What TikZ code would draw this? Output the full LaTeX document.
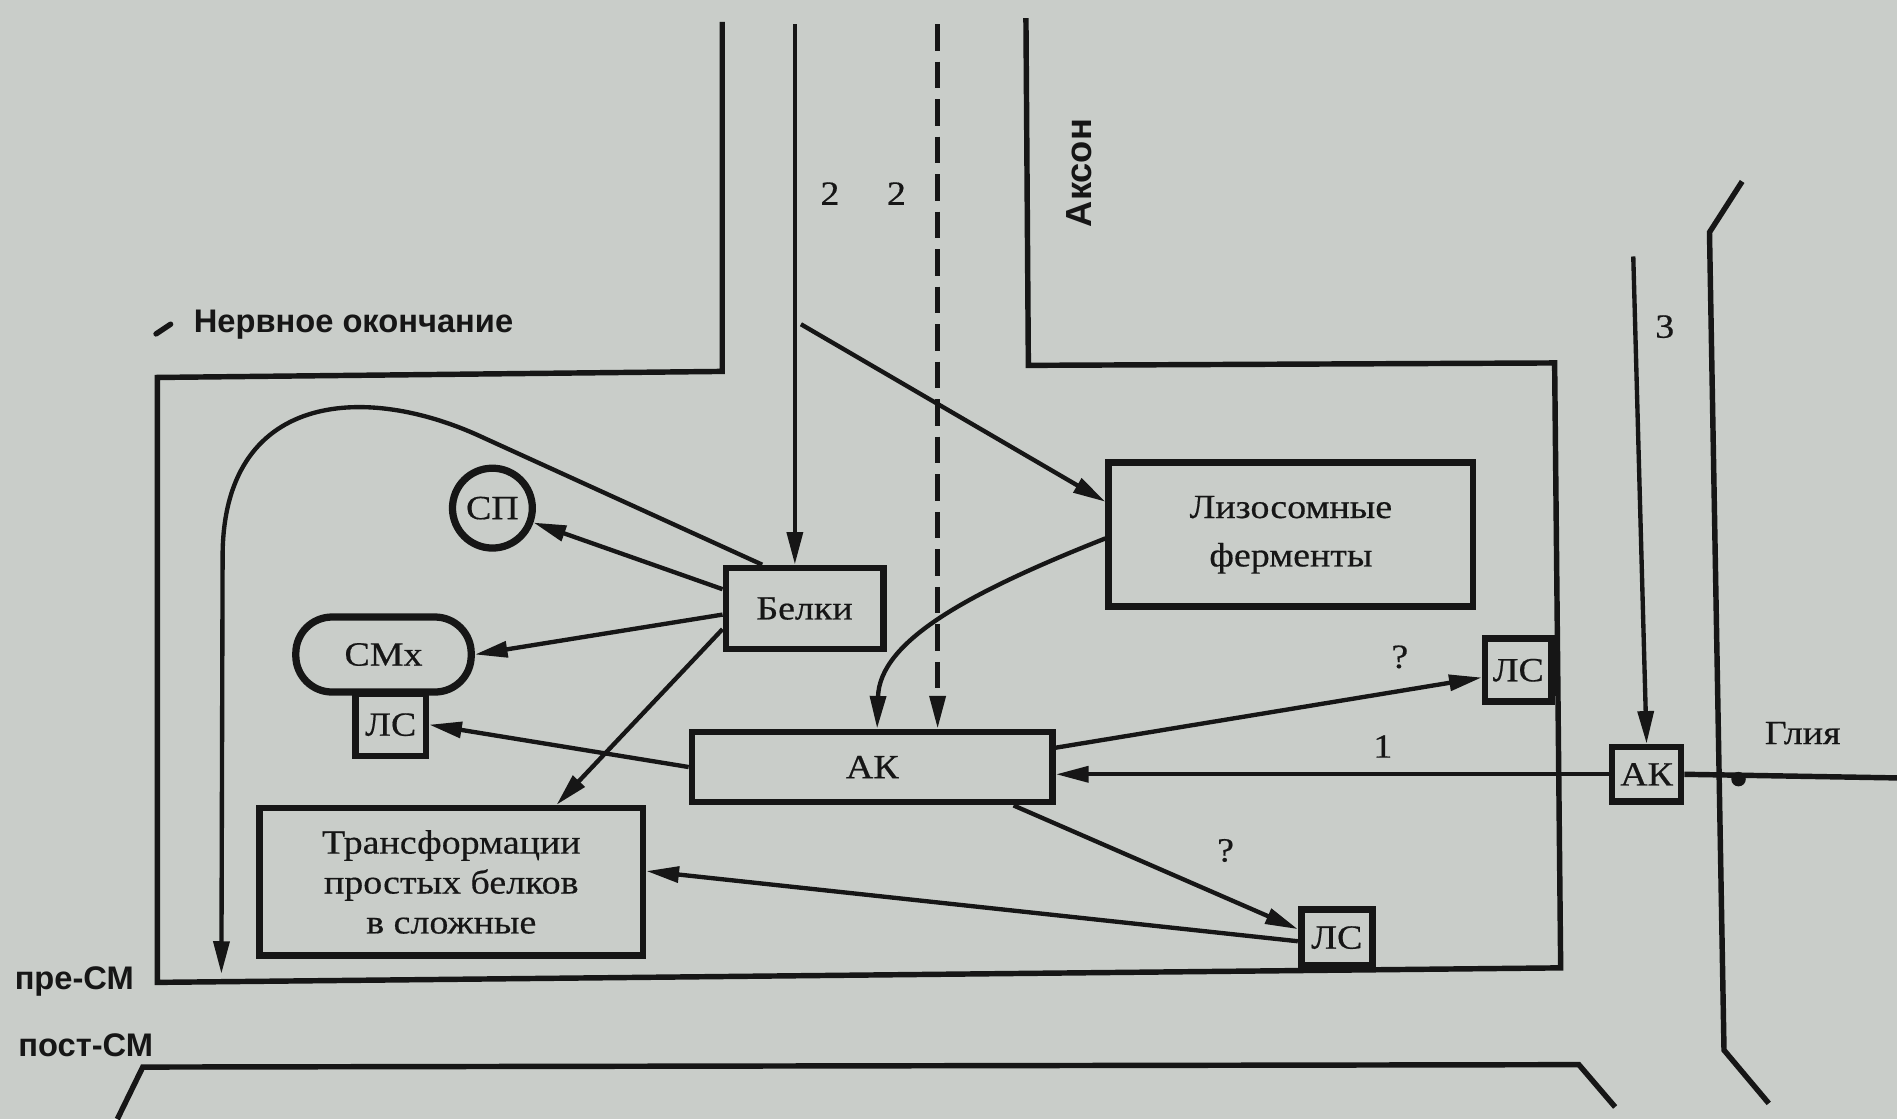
\documentclass[tikz,border=0pt]{standalone}
\usepackage{fontspec}
\setmainfont{Liberation Serif}
\newfontfamily\labfont{Liberation Sans}
\newfontfamily\boxfont[FakeStretch=1.12,FakeBold=0.5]{Liberation Serif}
\usetikzlibrary{arrows.meta}
\definecolor{paper}{RGB}{201,205,201}
\definecolor{ink}{RGB}{22,22,22}
\begin{document}
\begin{tikzpicture}[x=1pt,y=-1pt,
  box/.style={draw=ink,line width=5.5pt,inner sep=0pt,text=ink,align=center,font=\boxfont\fontsize{28}{33}\selectfont},
  wall/.style={draw=ink,line width=4.5pt},
  arr/.style={draw=ink,line width=3.6pt,-{Triangle[length=27pt,width=13pt]}},
  lbl/.style={font=\boxfont\fontsize{28}{33}\selectfont,text=ink,inner sep=0pt},
  slbl/.style={font=\labfont\bfseries\fontsize{27}{31}\selectfont,text=ink,inner sep=0pt}]
\fill[paper] (0,0) rectangle (1568,925);
\useasboundingbox (0,0) rectangle (1568,925);

% nodes
\node[box,minimum width=130pt,minimum height=67pt] (belki) at (665,503) {Белки};
\node[box,circle,minimum size=66pt,line width=6pt] (sp) at (407,420) {СП};
\node[box,rounded corners=30pt,minimum width=145pt,minimum height=62pt,line width=6pt] (smx) at (317,541) {СМх};
\node[box,minimum width=58pt,minimum height=52pt] (ls1) at (323,599) {ЛС};
\node[box,minimum width=298pt,minimum height=58pt] (ak) at (721,634) {АК};
\node[box,minimum width=317pt,minimum height=122pt] (tr) at (373,729) {Трансформации\\простых белков\\в сложные};
\node[box,minimum width=301pt,minimum height=119pt,font=\boxfont\fontsize{28}{40}\selectfont] (lys) at (1067,442) {Лизосомные\\ферменты};
\node[box,minimum width=55pt,minimum height=52pt] (ls2) at (1255,554) {ЛС};
\node[box,minimum width=59pt,minimum height=46pt] (ls3) at (1105,775) {ЛС};
\node[box,minimum width=57pt,minimum height=45pt] (ak2) at (1361,640) {АК};

% walls of nerve ending
\draw[wall] (597,18) -- (597,307) -- (130,312) -- (130,812) -- (1290,800) -- (1285,300) -- (850,302) -- (848,15);
% postsynaptic membrane
\draw[wall] (97,925) -- (118,882) -- (1305,880) -- (1335,915);
% glia membrane
\draw[wall] (1440,150) -- (1413,192) -- (1425,868) -- (1462,912);

% labels
\node[lbl] (n2a) at (686,160) {2};
\node[lbl] (n2b) at (741,160) {2};
\node[lbl] (n3) at (1376,270) {3};
\node[lbl] (q1) at (1157,543) {?};
\node[lbl] (n1) at (1143,617) {1};
\node[lbl] (q2) at (1013,703) {?};
\node[lbl] (glia) at (1490,606) {Глия};
\node[slbl,font=\labfont\bfseries\fontsize{30}{34}\selectfont,rotate=90] (akson) at (892,143) {Аксон};
\node[slbl,anchor=west] (nerv) at (160,268) {Нервное окончание};
\draw[ink,line width=4.5pt,line cap=round] (129,276) -- (141,268);
\node[slbl,anchor=west] (pre) at (12,811) {пре-СМ};
\node[slbl,anchor=west] (post) at (15,864) {пост-СМ};

% coordinates
\coordinate (axtop) at (657,20);
\coordinate (dashtop) at (775,20);
\coordinate (axbranch) at (662,268);
\coordinate (gliatop) at (1350,212);
\coordinate (gliaright) at (1568,643);
\coordinate (curveend) at (183,805);

% connectors
\draw[arr] (axtop) -- (axtop |- belki.north);
\draw[arr,dash pattern=on 22pt off 9pt] (dashtop) -- (dashtop |- ak.north);
\draw[arr] (axbranch) -- ([yshift=-35pt]lys.north west);
\draw[arr] ([yshift=-3pt]lys.west) .. controls (800,490) and (727,530) .. ([xshift=4pt]ak.north);
\draw[arr] ([xshift=-35pt]belki.north) -- (400,362) .. controls (300,315) and (184,325) .. (184,460) -- (curveend);
\draw[arr] ([yshift=16pt]belki.west) -- (sp);
\draw[arr] ([yshift=-5pt]belki.west) -- (smx.east);
\draw[arr] ([yshift=-17pt]belki.west) -- ([xshift=87pt]tr.north);
\draw[arr] (ak.west) -- (ls1.east);
\draw[arr] ([yshift=16pt]ak.east) -- ([yshift=-6pt]ls2.west);
\draw[arr] ([xshift=-35pt]ak.south east) -- ([yshift=7pt]ls3.west);
\draw[arr] ([yshift=-3pt]ls3.west) -- ([yshift=9pt]tr.east);
\draw[arr] (gliatop) -- (ak2.north);
\draw[arr] (ak2.west) -- (ak.east |- ak2.west);
\draw[wall] (ak2.east) -- (gliaright);
\fill[ink] (1437,644) circle (6pt);
\end{tikzpicture}
\end{document}
